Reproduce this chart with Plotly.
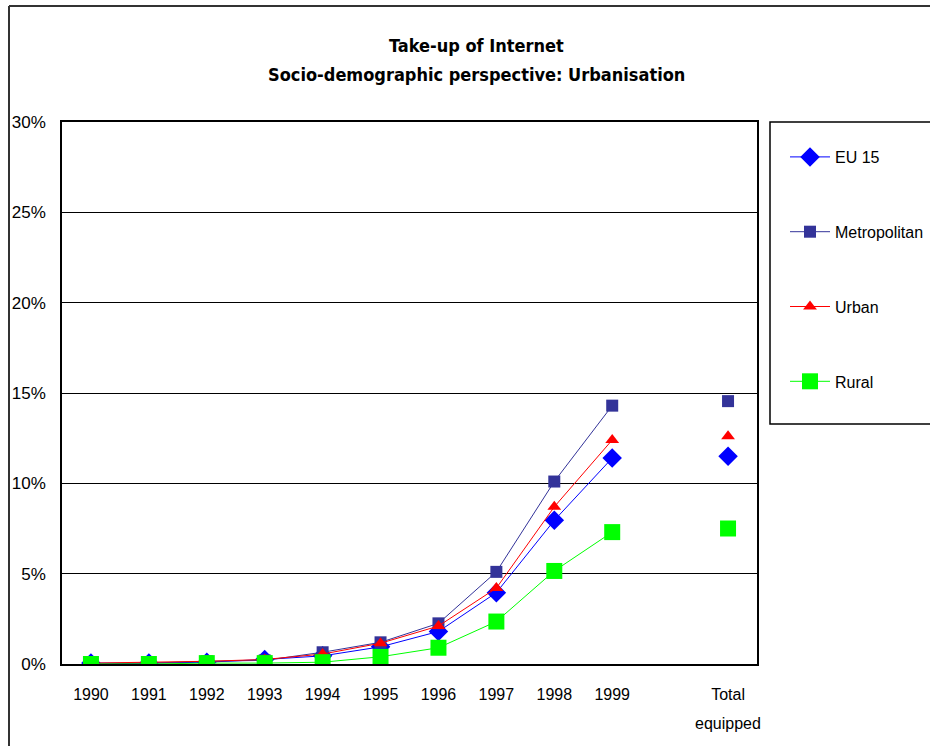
import plotly.graph_objects as go

# Category slots along the x axis; the blank slot separates the yearly series from the total
categories = ["1990", "1991", "1992", "1993", "1994", "1995", "1996", "1997", "1998", "1999",
              "", "Total equipped"]

# Share of households with Internet access (%), None = no value in that slot
eu15 = [0.05, 0.05, 0.1, 0.25, 0.45, 0.95, 1.8, 3.95, 7.95, 11.4, None, 11.5]
metropolitan = [0.0, 0.05, 0.15, 0.2, 0.65, 1.2, 2.25, 5.1, 10.1, 14.3, None, 14.55]
urban = [0.05, 0.1, 0.15, 0.25, 0.55, 1.15, 2.1, 4.2, 8.7, 12.4, None, 12.6]
rural = [0.0, 0.0, 0.05, 0.05, 0.1, 0.4, 0.9, 2.35, 5.15, 7.3, None, 7.5]

series = [
    ("EU 15", eu15, "#0000FF", "diamond", 15),
    ("Metropolitan", metropolitan, "#333399", "square", 12),
    ("Urban", urban, "#FF0000", "triangle-up", 12),
    ("Rural", rural, "#00FF00", "square", 16),
]

y_ticks = [0, 5, 10, 15, 20, 25, 30]

x_idx = list(range(len(categories)))
# the long category name is split over two tick lines; the second goes in an annotation
tick_text = [c.split(" ")[0] for c in categories]
second_lines = [(i, c.split(" ", 1)[1]) for i, c in enumerate(categories) if " " in c]

fig = go.Figure()
for i, (name, vals, color, sym, size) in enumerate(series):
    fig.add_trace(go.Scatter(
        x=x_idx, y=vals, name=name, mode="lines+markers",
        line=dict(color=color, width=1),
        marker=dict(symbol=sym, size=size, color=color, line=dict(width=0)),
        connectgaps=False, legendgroup=f"g{i}",
    ))

# pixel layout: plot area 62..757 x 122..664
L, R, T, B, W, H = 62, 757, 122, 664, 930, 746
pw, ph = R - L, B - T


def px(x):
    return (x - L) / pw


def py(y):
    return (B - y) / ph


base = "Liberation Sans, Arial, sans-serif"
cond = "DejaVu Sans Condensed, Liberation Sans Narrow, Liberation Sans, sans-serif"

annotations = [
    dict(text="<b>Take-up of Internet</b>", x=px(477), y=py(45), xref="paper", yref="paper",
         showarrow=False, xanchor="center", yanchor="middle",
         font=dict(family=cond, size=18, color="black")),
    dict(text="<b>Socio-demographic perspective: Urbanisation</b>", x=px(477), y=py(75),
         xref="paper", yref="paper", showarrow=False, xanchor="center", yanchor="middle",
         font=dict(family=cond, size=18, color="black")),
]
for i, txt in second_lines:
    annotations.append(dict(text=txt, x=i, xref="x", y=py(723), yref="paper",
                            showarrow=False, xanchor="center", yanchor="middle",
                            font=dict(family=base, size=16, color="black")))

fig.update_layout(
    width=W, height=H,
    margin=dict(l=L, r=W - R, t=T, b=H - B, autoexpand=False),
    paper_bgcolor="white", plot_bgcolor="white",
    showlegend=True,
    legend=dict(
        x=px(785), y=py(140), xanchor="left", yanchor="top",
        bgcolor="rgba(0,0,0,0)", borderwidth=0,
        font=dict(family=base, size=16, color="black"),
        tracegroupgap=51, itemclick=False, itemwidth=40,
    ),
    xaxis=dict(
        range=[-0.5, len(categories) - 0.5],
        tickmode="array", tickvals=x_idx, ticktext=tick_text,
        showgrid=False, zeroline=False,
        showline=True, linecolor="black", linewidth=1.5, mirror=True,
        ticks="", ticklabelstandoff=15,
        tickfont=dict(family=base, size=16, color="black"),
    ),
    yaxis=dict(
        range=[0, 30], tickmode="array", tickvals=y_ticks,
        ticktext=[f"{v}%" for v in y_ticks],
        showgrid=True, gridcolor="black", gridwidth=1,
        zeroline=False,
        showline=True, linecolor="black", linewidth=1.5, mirror=True,
        ticks="", ticklabelstandoff=11,
        tickfont=dict(family=base, size=17, color="black"),
    ),
    annotations=annotations,
    shapes=[
        # chart outer border (left and top edges)
        dict(type="line", xref="paper", yref="paper", x0=px(9), x1=px(9), y0=py(6), y1=py(760),
             line=dict(color="#333333", width=2)),
        dict(type="line", xref="paper", yref="paper", x0=px(9), x1=px(940), y0=py(6), y1=py(6),
             line=dict(color="#333333", width=2)),
        # legend frame
        dict(type="rect", xref="paper", yref="paper", x0=px(770), x1=px(945), y0=py(122), y1=py(424),
             line=dict(color="black", width=1.5), fillcolor="rgba(0,0,0,0)"),
    ],
)

fig.write_html("out.html")
